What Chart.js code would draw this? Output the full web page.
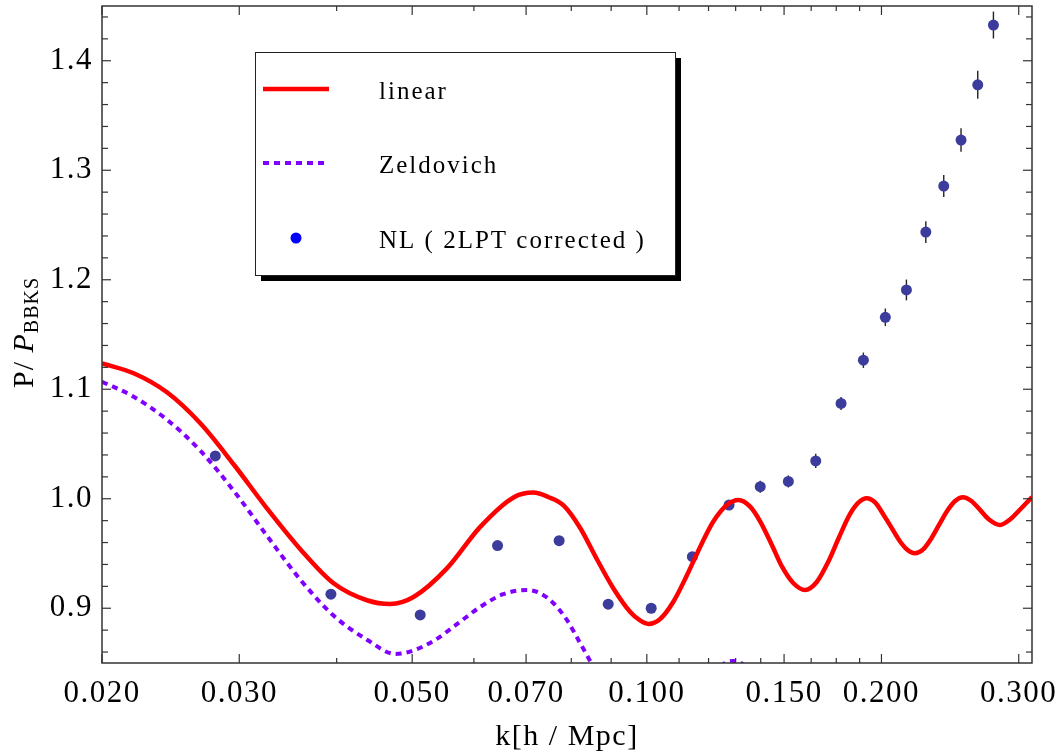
<!DOCTYPE html>
<html lang="en">
<head>
  <meta charset="UTF-8" />
  <title>P / P_BBKS vs k</title>
  <script src="https://cdn.jsdelivr.net/npm/chart.js"></script>
  <style>
    body { margin: 0; background: #fff; }
    canvas { display: block; }
  </style>
</head>
<body>
  <canvas id="chart" width="1062" height="755"></canvas>
  <script>
    // linear theory curve
    const linK = [0.02, 0.02196, 0.02423, 0.02674, 0.0295, 0.03255, 0.03593, 0.03964, 0.04375, 0.04686,
                  0.0502, 0.0554, 0.06113, 0.06745, 0.07155, 0.07472, 0.07818, 0.08213, 0.08626, 0.09061,
                  0.09522, 0.09802, 0.10047, 0.10402, 0.1082, 0.11254, 0.11706, 0.1217, 0.12666, 0.1311,
                  0.1357, 0.1398, 0.14468, 0.14916, 0.1542, 0.1596, 0.1652, 0.17086, 0.1765, 0.1823,
                  0.18666, 0.1915, 0.19626, 0.2011, 0.20574, 0.2113, 0.21568, 0.2208, 0.2262, 0.23152,
                  0.23706, 0.2428, 0.2486, 0.2544, 0.2606, 0.2676, 0.2748, 0.2839, 0.2924, 0.3012, 0.312];
    const linP = [1.1237, 1.1146, 1.0972, 1.0689, 1.0315, 0.9913, 0.9539, 0.9228, 0.9073, 0.9039,
                  0.9103, 0.9364, 0.9743, 1.0012, 1.0056, 1.0016, 0.9939, 0.9733, 0.9450, 0.9181,
                  0.8966, 0.8889, 0.8857, 0.8902, 0.9062, 0.9299, 0.9560, 0.9792, 0.9943, 0.9989,
                  0.9928, 0.9792, 0.9578, 0.9377, 0.9228, 0.9167, 0.9240, 0.9423, 0.9651, 0.9861,
                  0.9962, 1.0005, 0.9966, 0.9857, 0.9743, 0.9610, 0.9537, 0.9502, 0.9537, 0.9633,
                  0.9761, 0.9889, 0.9980, 1.0014, 0.9982, 0.9898, 0.9811, 0.9761, 0.9811, 0.9902, 1.0016];

    // Zeldovich curve (drops below the frame after ~0.086, peeks back near 0.13)
    const zelK = [0.02, 0.02196, 0.02423, 0.02674, 0.0295, 0.03255, 0.03593, 0.03964, 0.04375, 0.04756,
                  0.0502, 0.05352, 0.05712, 0.06113, 0.06542, 0.07018, 0.07298, 0.0759, 0.07896, 0.08213,
                  0.08542, 0.08886, 0.0924, 0.09802, 0.10402, 0.1103, 0.11706, 0.12234, 0.126, 0.12904,
                  0.13212, 0.1357, 0.14182, 0.14826, 0.15726];
    const zelP = [1.1069, 1.0932, 1.0722, 1.0439, 1.0074, 0.9663, 0.9261, 0.8933, 0.8713, 0.8583,
                  0.8615, 0.8711, 0.8857, 0.9012, 0.9128, 0.9167, 0.9137, 0.9046, 0.8893, 0.8681,
                  0.8464, 0.8254, 0.8072, 0.7889, 0.7816, 0.7935, 0.8218, 0.8418, 0.8500, 0.8518,
                  0.8500, 0.8422, 0.8227, 0.8026, 0.7843];

    // N-body points with error bars
    const nlK = [0.02795, 0.03933, 0.0512, 0.06434, 0.07718, 0.08922, 0.1013, 0.1144, 0.1275, 0.1398,
                 0.1519, 0.1647, 0.1775, 0.1896, 0.2023, 0.2153, 0.2280, 0.2404, 0.2530, 0.2658, 0.2784];
    const nlP = [1.0391, 0.9128, 0.8939, 0.9572, 0.9617, 0.9037, 0.9000, 0.9471, 0.9943, 1.0110,
                 1.0158, 1.0345, 1.0870, 1.1265, 1.1657, 1.1907, 1.2435, 1.2856, 1.3276, 1.3780, 1.4326];
    const nlErr = [0.003, 0.003, 0.003, 0.003, 0.003, 0.003, 0.003, 0.003, 0.003, 0.0055,
                   0.0055, 0.0065, 0.006, 0.007, 0.008, 0.0095, 0.010, 0.010, 0.0107, 0.0128, 0.0123];

    // ticks
    const xMajor = [0.02, 0.03, 0.05, 0.07, 0.1, 0.15, 0.2, 0.3];
    const xLabels = ['0.020', '0.030', '0.050', '0.070', '0.100', '0.150', '0.200', '0.300'];
    const xMinor = [0.04, 0.06, 0.08, 0.09, 0.11, 0.12, 0.13, 0.14, 0.1625, 0.175, 0.1875];
    const yMajor = [0.9, 1.0, 1.1, 1.2, 1.3, 1.4];
    const yLabels = ['0.9', '1.0', '1.1', '1.2', '1.3', '1.4'];
    const yMinor = [0.86, 0.88, 0.92, 0.94, 0.96, 0.98, 1.02, 1.04, 1.06, 1.08, 1.12, 1.14, 1.16, 1.18,
                    1.22, 1.24, 1.26, 1.28, 1.32, 1.34, 1.36, 1.38, 1.42, 1.44];

    const serif = '"Liberation Serif", "Times New Roman", serif';
    const dotColor = '#3c3c9c';

    const toXY = (ks, vs) => ks.map((k, i) => ({ x: k, y: vs[i] }));

    // letter spacing for the scale labels, like the original typesetting
    const spacing = {
      id: 'spacing',
      beforeDraw(chart) { chart.ctx.letterSpacing = '1.5px'; },
      beforeDatasetsDraw(chart) { chart.ctx.letterSpacing = '0px'; }
    };

    const errorBars = {
      id: 'errorBars',
      beforeDatasetsDraw(chart) {
        const { ctx, scales: { x, y } } = chart;
        ctx.save();
        ctx.strokeStyle = '#222';
        ctx.lineWidth = 1.4;
        nlK.forEach((k, i) => {
          const px = x.getPixelForValue(k);
          ctx.beginPath();
          ctx.moveTo(px, y.getPixelForValue(nlP[i] - nlErr[i]));
          ctx.lineTo(px, y.getPixelForValue(nlP[i] + nlErr[i]));
          ctx.stroke();
        });
        ctx.restore();
      }
    };

    // Mathematica style frame with inward ticks on all four sides
    const frame = {
      id: 'frame',
      afterDatasetsDraw(chart) {
        const { ctx, chartArea: a, scales: { x, y } } = chart;
        ctx.save();
        ctx.strokeStyle = '#333';
        ctx.lineWidth = 1.5;
        ctx.strokeRect(a.left, a.top, a.right - a.left, a.bottom - a.top);
        ctx.lineWidth = 1.2;
        const tick = (x1, y1, x2, y2) => { ctx.beginPath(); ctx.moveTo(x1, y1); ctx.lineTo(x2, y2); ctx.stroke(); };
        xMajor.forEach(v => { const p = x.getPixelForValue(v); tick(p, a.bottom, p, a.bottom - 9); tick(p, a.top, p, a.top + 9); });
        xMinor.forEach(v => { const p = x.getPixelForValue(v); tick(p, a.bottom, p, a.bottom - 5); tick(p, a.top, p, a.top + 5); });
        yMajor.forEach(v => { const p = y.getPixelForValue(v); tick(a.left, p, a.left + 9, p); tick(a.right, p, a.right - 9, p); });
        yMinor.forEach(v => { const p = y.getPixelForValue(v); tick(a.left, p, a.left + 6, p); tick(a.right, p, a.right - 6, p); });
        ctx.restore();
      }
    };

    const yTitle = {
      id: 'yTitle',
      afterDraw(chart) {
        const ctx = chart.ctx;
        ctx.save();
        ctx.translate(33, 388);
        ctx.rotate(-Math.PI / 2);
        ctx.fillStyle = '#000';
        ctx.textBaseline = 'alphabetic';
        ctx.letterSpacing = '1px';
        ctx.font = '30px ' + serif;
        ctx.fillText('P/ ', 0, 0);
        let w = ctx.measureText('P/ ').width;
        ctx.font = 'italic 30px ' + serif;
        ctx.fillText('P', w, 0);
        w += ctx.measureText('P').width;
        ctx.font = '20px ' + serif;
        ctx.fillText('BBKS', w, 5);
        ctx.restore();
      }
    };

    const boxLegend = {
      id: 'boxLegend',
      afterDraw(chart) {
        const ctx = chart.ctx;
        const lx = 255, ly = 52, lw = 420, lh = 223;
        ctx.save();
        ctx.fillStyle = '#000';
        ctx.fillRect(lx + 6, ly + 6, lw, lh);
        ctx.fillStyle = '#fff';
        ctx.fillRect(lx, ly, lw, lh);
        ctx.strokeStyle = '#222';
        ctx.lineWidth = 1;
        ctx.strokeRect(lx + 0.5, ly + 0.5, lw, lh);

        const rows = [89, 163, 238];
        chart.data.datasets.forEach((ds, i) => {
          const cy = rows[i];
          if (i < 2) {
            ctx.strokeStyle = ds.borderColor;
            ctx.lineWidth = ds.borderWidth;
            ctx.setLineDash(ds.borderDash || []);
            ctx.beginPath();
            ctx.moveTo(263, cy);
            ctx.lineTo(329, cy);
            ctx.stroke();
            ctx.setLineDash([]);
          } else {
            ctx.fillStyle = '#0000ff';
            ctx.beginPath();
            ctx.arc(296, cy, 5.5, 0, Math.PI * 2);
            ctx.fill();
          }
          ctx.fillStyle = '#000';
          ctx.font = '25px ' + serif;
          ctx.letterSpacing = '2px';
          ctx.textBaseline = 'alphabetic';
          ctx.fillText(ds.label, 379, cy + 10);
        });
        ctx.restore();
      }
    };

    new Chart(document.getElementById('chart'), {
      type: 'line',
      data: {
        datasets: [
          {
            label: 'linear',
            data: toXY(linK, linP),
            borderColor: '#ff0000',
            borderWidth: 4.5,
            pointRadius: 0,
            cubicInterpolationMode: 'monotone',
            capBezierPoints: false,
            clip: 0
          },
          {
            label: 'Zeldovich',
            data: toXY(zelK, zelP),
            borderColor: '#8000ff',
            borderWidth: 4,
            borderDash: [6, 5],
            pointRadius: 0,
            cubicInterpolationMode: 'monotone',
            capBezierPoints: false,
            clip: 0
          },
          {
            label: 'NL ( 2LPT corrected )',
            data: toXY(nlK, nlP),
            showLine: false,
            pointRadius: 5.5,
            pointBackgroundColor: dotColor,
            pointBorderWidth: 0,
            borderColor: dotColor
          }
        ]
      },
      options: {
        responsive: false,
        animation: false,
        layout: { padding: { left: 0, right: 30, top: 6, bottom: 0 } },
        plugins: { legend: { display: false }, tooltip: { enabled: false } },
        scales: {
          x: {
            type: 'logarithmic',
            min: 0.02,
            max: 0.312,
            afterBuildTicks: s => { s.ticks = xMajor.map(v => ({ value: v })); },
            afterFit: s => { s.height = 92; s.paddingLeft = 0; s.paddingRight = 0; },
            grid: { display: false, drawTicks: false },
            border: { display: false },
            ticks: {
              autoSkip: false,
              maxRotation: 0,
              padding: 12,
              color: '#000',
              font: { family: serif, size: 31 },
              callback: (v, i) => xLabels[i]
            },
            title: {
              display: true,
              text: 'k[h / Mpc]',
              color: '#000',
              font: { family: serif, size: 30 },
              padding: { top: 4, bottom: 0 }
            }
          },
          y: {
            type: 'linear',
            min: 0.85,
            max: 1.45,
            afterBuildTicks: s => { s.ticks = yMajor.map(v => ({ value: v })); },
            afterFit: s => { s.width = 102; s.paddingTop = 0; s.paddingBottom = 0; },
            grid: { display: false, drawTicks: false },
            border: { display: false },
            ticks: {
              autoSkip: false,
              padding: 9,
              color: '#000',
              font: { family: serif, size: 31 },
              callback: (v, i) => yLabels[i]
            }
          }
        }
      },
      plugins: [spacing, errorBars, frame, yTitle, boxLegend]
    });
  </script>
</body>
</html>
